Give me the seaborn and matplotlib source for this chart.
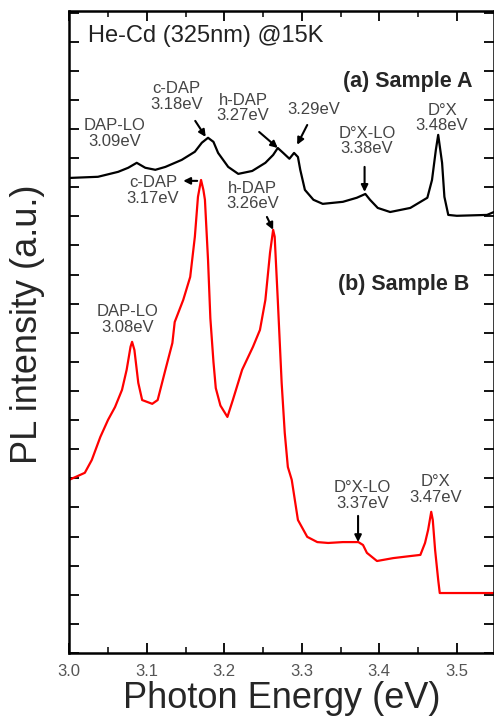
import numpy as np
import pandas as pd
import matplotlib
matplotlib.use("Agg")
import matplotlib.pyplot as plt
import seaborn as sns

# ---------------- data ----------------
energy_a = [3.000, 3.037, 3.063, 3.076, 3.087, 3.098, 3.111, 3.124, 3.145, 3.162,
            3.171, 3.179, 3.186, 3.192, 3.205, 3.218, 3.236, 3.253, 3.263, 3.269,
            3.276, 3.284, 3.290, 3.295, 3.298, 3.304, 3.315, 3.327, 3.353, 3.371,
            3.382, 3.388, 3.398, 3.414, 3.440, 3.462, 3.468, 3.473, 3.476, 3.481,
            3.484, 3.489, 3.500, 3.539, 3.548]
intensity_a = [16.32, 16.36, 16.53, 16.67, 16.84, 16.67, 16.60, 16.70, 16.94, 17.22,
               17.53, 17.70, 17.56, 17.18, 16.70, 16.46, 16.56, 16.84, 17.11, 17.35,
               17.18, 16.98, 17.18, 17.04, 16.60, 15.91, 15.57, 15.43, 15.50, 15.64,
               15.77, 15.57, 15.29, 15.15, 15.29, 15.64, 16.25, 17.29, 17.80, 16.84,
               15.67, 15.05, 15.02, 15.05, 15.15]

energy_b = [3.000, 3.020, 3.029, 3.040, 3.050, 3.059, 3.068, 3.074, 3.079, 3.081,
            3.084, 3.089, 3.094, 3.107, 3.114, 3.124, 3.133, 3.136, 3.147, 3.156,
            3.162, 3.166, 3.170, 3.173, 3.175, 3.179, 3.182, 3.186, 3.189, 3.195,
            3.204, 3.211, 3.223, 3.237, 3.246, 3.253, 3.259, 3.263, 3.265, 3.269,
            3.274, 3.278, 3.282, 3.287, 3.295, 3.307, 3.320, 3.334, 3.353, 3.373,
            3.379, 3.384, 3.397, 3.418, 3.440, 3.453, 3.459, 3.463, 3.467, 3.469,
            3.472, 3.476, 3.478, 3.504, 3.548]
intensity_b = [5.95, 6.19, 6.63, 7.42, 8.01, 8.45, 9.04, 9.73, 10.52, 10.69,
               10.41, 9.28, 8.69, 8.56, 8.69, 9.73, 10.65, 11.37, 12.13, 12.92,
               14.30, 15.67, 16.25, 15.91, 15.57, 13.50, 11.50, 10.00, 9.10, 8.50,
               8.11, 8.69, 9.73, 10.52, 11.10, 12.13, 13.75, 14.54, 14.30, 12.13,
               9.28, 7.56, 6.39, 5.95, 4.57, 3.99, 3.81, 3.78, 3.81, 3.81,
               3.71, 3.44, 3.16, 3.26, 3.33, 3.37, 3.78, 4.23, 4.85, 4.57,
               3.54, 2.51, 2.06, 2.06, 2.06]

x_ticks = [3.0, 3.1, 3.2, 3.3, 3.4, 3.5]
x_tick_labels = ["3.0", "3.1", "3.2", "3.3", "3.4", "3.5"]

peak_labels = ["DAP-LO\n3.09eV", "c-DAP\n3.18eV", "h-DAP\n3.27eV", "3.29eV",
               "D°X-LO\n3.38eV", "D°X\n3.48eV",
               "c-DAP\n3.17eV", "h-DAP\n3.26eV", "DAP-LO\n3.08eV",
               "D°X-LO\n3.37eV", "D°X\n3.47eV"]
peak_label_x = [3.059, 3.138, 3.224, 3.315, 3.384, 3.481,
                3.108, 3.236, 3.075, 3.378, 3.473]
peak_label_y = [17.84, 19.11, 18.73, 18.66, 17.59, 18.38,
                15.88, 15.70, 11.46, 5.41, 5.62]

arrow_tail_x = [3.1625, 3.245, 3.307, 3.381, 3.165, 3.255, 3.3726]
arrow_tail_y = [18.28, 17.90, 18.14, 16.70, 16.22, 14.98, 4.71]
arrow_head_x = [3.176, 3.269, 3.294, 3.381, 3.147, 3.263, 3.3726]
arrow_head_y = [17.73, 17.35, 17.46, 15.84, 16.22, 14.54, 3.81]

# ---------------- style ----------------
sns.set_style("ticks")
plt.rcParams["font.family"] = ["Liberation Sans", "DejaVu Sans"]

fig = plt.figure(figsize=(4.94, 7.16), dpi=100)
ax = fig.add_axes([0.1403, 0.088, 0.8597, 0.896])

df_a = pd.DataFrame({"E": energy_a, "I": intensity_a})
df_b = pd.DataFrame({"E": energy_b, "I": intensity_b})
sns.lineplot(data=df_a, x="E", y="I", ax=ax, color="black", lw=1.6,
             estimator=None, sort=False, solid_joinstyle="round")
sns.lineplot(data=df_b, x="E", y="I", ax=ax, color="#ff0000", lw=1.6,
             estimator=None, sort=False, solid_joinstyle="round")

ax.set_xlim(3.0, 3.548)
ax.set_ylim(0, 22.04)
ax.set_xticks(x_ticks)
ax.set_xticklabels(x_tick_labels)
ax.set_xticks(np.arange(3.05, 3.55, 0.1), minor=True)
ax.set_yticks(np.arange(0, 23, 1))
ax.set_yticklabels([])
ax.tick_params(axis="both", which="major", direction="in", length=7, width=1.3,
               top=True, right=True, color="black")
ax.tick_params(axis="x", which="minor", direction="in", length=4, width=1.3,
               top=True, bottom=True)
ax.tick_params(axis="x", which="major", labelsize=12, labelcolor="#555555", pad=8)
for s in ax.spines.values():
    s.set_linewidth(1.8)
    s.set_color("black")

ax.set_xlabel("Photon Energy (eV)", fontsize=26, va="baseline")
ax.xaxis.set_label_coords(0.5, -0.0857)
ax.set_ylabel("PL intensity (a.u.)", fontsize=26, va="center")
ax.yaxis.set_label_coords(-0.0985, 0.513)

ax.text(3.024, 21.2, "He-Cd (325nm) @15K", fontsize=17, ha="left", va="center",
        color="#222222")
ax.text(3.353, 19.62, "(a) Sample A", fontsize=15.5, fontweight="bold",
        ha="left", va="center")
ax.text(3.347, 12.65, "(b) Sample B", fontsize=15.5, fontweight="bold",
        ha="left", va="center")

for lab, lx, ly in zip(peak_labels, peak_label_x, peak_label_y):
    ax.text(lx, ly, lab, fontsize=12, ha="center", va="center",
            color="#444444", linespacing=1.05)

for tx, ty, hx, hy in zip(arrow_tail_x, arrow_tail_y, arrow_head_x, arrow_head_y):
    ax.annotate("", xy=(hx, hy), xytext=(tx, ty),
                arrowprops=dict(arrowstyle="-|>", color="black", lw=1.5,
                                mutation_scale=10, shrinkA=0, shrinkB=0))

fig.savefig("out.png", dpi=100)
